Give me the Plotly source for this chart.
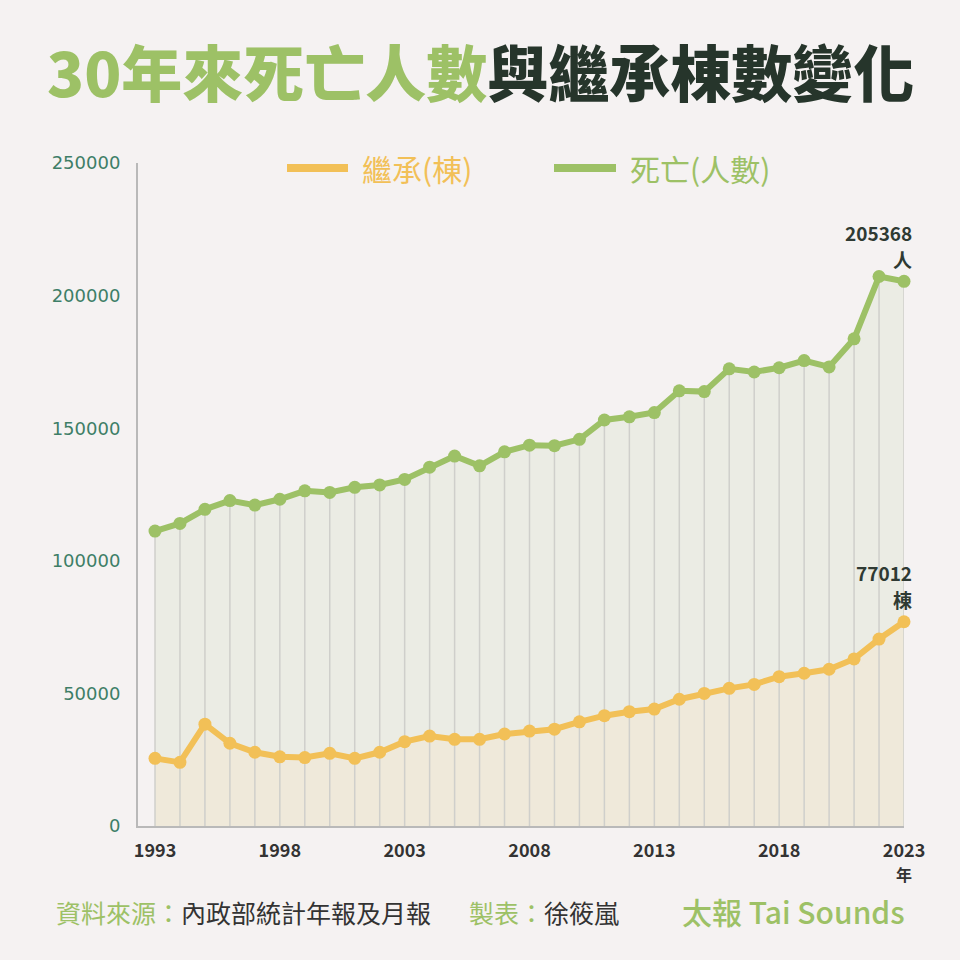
import plotly.graph_objects as go

years = list(range(1993, 2024))
deaths = [111200, 114100, 119400, 122700, 121000, 123200, 126400, 125800, 127700, 128600,
          130700, 135300, 139500, 135800, 141100, 143600, 143400, 145800, 153100, 154300,
          155900, 164100, 163800, 172400, 171200, 172800, 175500, 173100, 183700, 207200, 205368]
inherit = [25500, 24000, 38400, 31200, 27800, 26100, 25800, 27400, 25500, 27800,
           31800, 33900, 32700, 32700, 34700, 35800, 36500, 39300, 41600, 43100,
           44100, 47800, 50000, 51900, 53400, 56300, 57600, 59100, 63000, 70500, 77012]
tick_years = [1993, 1998, 2003, 2008, 2013, 2018, 2023]
tick_text = ["1993", "1998", "2003", "2008", "2013", "2018", "2023"]
x_unit = "年"
y_ticks = [0, 50000, 100000, 150000, 200000, 250000]
y_text = [str(v) for v in y_ticks]

BG = "#f5f2f2"
GREEN = "#9dc166"
ORANGE = "#f2c057"
DARK = "#2f3a33"
CJK = "Noto Sans CJK TC"

fig = go.Figure()

# area fills
fig.add_trace(go.Scatter(x=years, y=deaths, mode="none", fill="tozeroy",
                         fillcolor="#ebece4", hoverinfo="skip", showlegend=False))
fig.add_trace(go.Scatter(x=years, y=inherit, mode="none", fill="tozeroy",
                         fillcolor="#efe9da", hoverinfo="skip", showlegend=False))

# vertical drop lines from 0 to each death value
vx, vy = [], []
for yr, v in zip(years, deaths):
    vx += [yr, yr, None]
    vy += [0, v, None]
fig.add_trace(go.Scatter(x=vx, y=vy, mode="lines", line=dict(color="#cfcfcb", width=1.5),
                         hoverinfo="skip", showlegend=False))

# data lines
fig.add_trace(go.Scatter(x=years, y=inherit, mode="lines+markers", name="繼承(棟)",
                         line=dict(color=ORANGE, width=6), marker=dict(size=13, color=ORANGE),
                         cliponaxis=False, showlegend=False))
fig.add_trace(go.Scatter(x=years, y=deaths, mode="lines+markers", name="死亡(人數)",
                         line=dict(color=GREEN, width=6), marker=dict(size=13, color=GREEN),
                         cliponaxis=False, showlegend=False))

L, R, T, B = 138, 904, 163, 826
W, H = R - L, B - T
def px(x):
    return (x - L) / W
def py(y):
    return (B - y) / H

# title
fig.add_annotation(xref="paper", yref="paper", x=px(480), y=py(70), xanchor="center", yanchor="middle",
                   showarrow=False,
                   text=f"<span style='color:{GREEN}'>30年來死亡人數</span><span style='color:#26352b'>與繼承棟數變化</span>",
                   font=dict(family=CJK, size=61, weight=900))

# custom legend
fig.add_shape(type="line", xref="paper", yref="paper", x0=px(287), x1=px(348), y0=py(168), y1=py(168),
              line=dict(color=ORANGE, width=8))
fig.add_annotation(xref="paper", yref="paper", x=px(360), y=py(168), xanchor="left", yanchor="middle",
                   showarrow=False, text="繼承(棟)", font=dict(family=CJK, size=30, color=ORANGE))
fig.add_shape(type="line", xref="paper", yref="paper", x0=px(554), x1=px(616), y0=py(168), y1=py(168),
              line=dict(color=GREEN, width=8))
fig.add_annotation(xref="paper", yref="paper", x=px(628), y=py(168), xanchor="left", yanchor="middle",
                   showarrow=False, text="死亡(人數)", font=dict(family=CJK, size=30, color=GREEN))

# end labels (value line + unit line)
for val, unit in [(deaths[-1], "人"), (inherit[-1], "棟")]:
    fig.add_annotation(x=years[-1], y=val, xanchor="right", yanchor="middle", xshift=9, yshift=49,
                       showarrow=False, text=f"<b>{val}</b>", borderpad=0,
                       font=dict(family=CJK, size=19, color=DARK))
    fig.add_annotation(x=years[-1], y=val, xanchor="right", yanchor="middle", xshift=9, yshift=22,
                       showarrow=False, text=f"<b>{unit}</b>", borderpad=0,
                       font=dict(family=CJK, size=19, color=DARK))

# x unit under last tick
fig.add_annotation(x=tick_years[-1], xref="x", yref="paper", y=py(874), xanchor="center", yanchor="middle",
                   showarrow=False, text=f"<b>{x_unit}</b>", borderpad=0,
                   font=dict(family=CJK, size=16, color="#333333"))

# footer
fig.add_annotation(xref="paper", yref="paper", x=px(54), y=py(912), xanchor="left", yanchor="middle",
                   showarrow=False,
                   text=f"<span style='color:{GREEN}'>資料來源：</span><span style='color:#333333'>內政部統計年報及月報</span>",
                   font=dict(family=CJK, size=25))
fig.add_annotation(xref="paper", yref="paper", x=px(467), y=py(912), xanchor="left", yanchor="middle",
                   showarrow=False,
                   text=f"<span style='color:{GREEN}'>製表：</span><span style='color:#333333'>徐筱嵐</span>",
                   font=dict(family=CJK, size=25))
fig.add_annotation(xref="paper", yref="paper", x=px(907), y=py(911), xanchor="right", yanchor="middle",
                   showarrow=False, text="太報 Tai Sounds",
                   font=dict(family=CJK, size=30, color=GREEN, weight=500))

fig.update_layout(
    width=960, height=960,
    margin=dict(l=L, r=960 - R, t=T, b=960 - B),
    paper_bgcolor=BG, plot_bgcolor=BG,
    showlegend=False,
    xaxis=dict(range=[1993 - 17 / 24.97, 2023], tickvals=tick_years, ticktext=tick_text,
               showgrid=False, zeroline=False, showline=True, linecolor="#b9b9b9", linewidth=2,
               ticks="", ticklabelstandoff=7,
               tickfont=dict(family=CJK, size=18, color="#333333", weight="bold")),
    yaxis=dict(range=[0, 250000], tickvals=y_ticks, ticktext=y_text, showgrid=False, zeroline=False,
               showline=True, linecolor="#b9b9b9", linewidth=2, ticks="", ticklabelstandoff=12,
               tickfont=dict(family="DejaVu Sans", size=18, color="#3e7e67")),
)

fig.write_html("out.html")
